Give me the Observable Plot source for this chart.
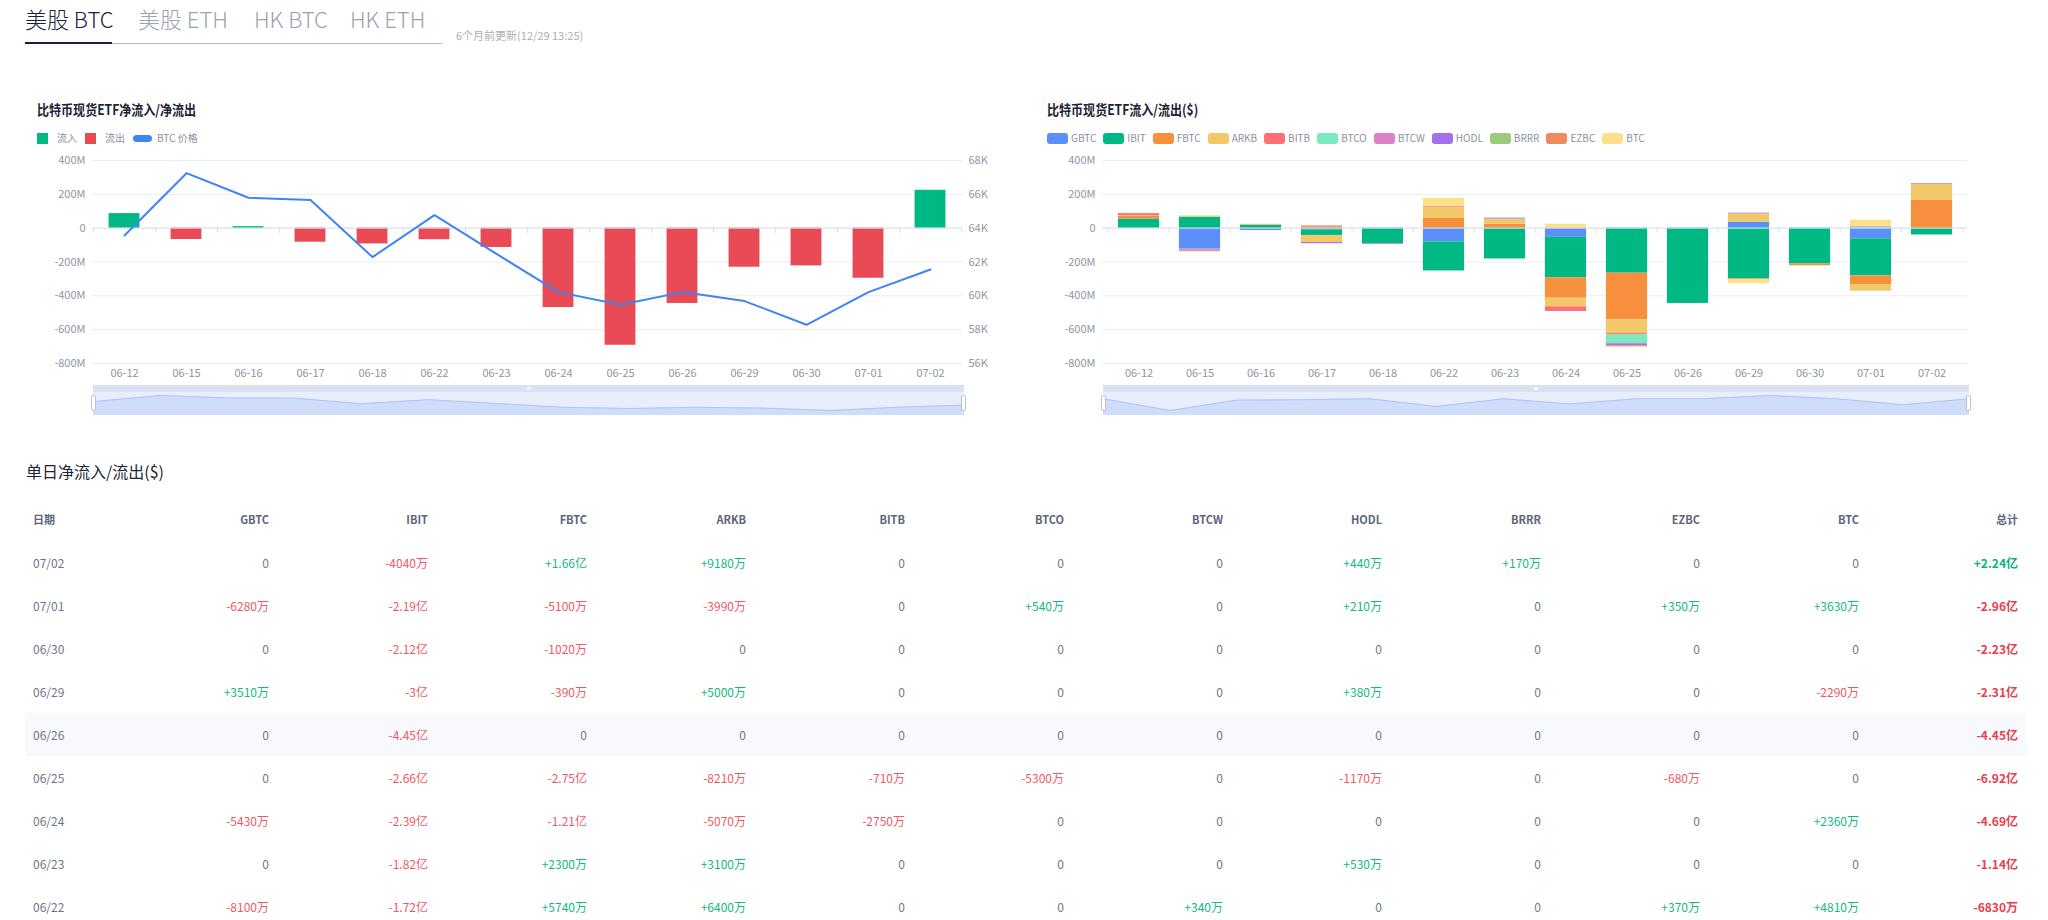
<!DOCTYPE html>
<html><head><meta charset="utf-8">
<script src="https://cdn.jsdelivr.net/npm/d3@7"></script>
<script src="https://cdn.jsdelivr.net/npm/@observablehq/plot@0.6"></script>
<style>
html,body{margin:0;padding:0;background:#fff}
body{width:2048px;height:920px;overflow:hidden;position:relative;font-family:"Noto Sans CJK SC","Noto Sans",sans-serif}
.abs{position:absolute;white-space:nowrap}
.tab{font-size:22px;line-height:30px;font-weight:300}
.ctitle{font-size:14px;font-weight:700;color:#1d2433;line-height:18px;transform:scaleX(0.86);transform-origin:left center}
.leg{display:flex;align-items:center;font-size:10px;color:#8a92a4;line-height:12px}
.leg .it{display:flex;align-items:center;margin-right:8px}
.leg .sw{margin-right:5px}
table{border-collapse:collapse;table-layout:fixed}
th,td{padding:0 8px;text-align:right;white-space:nowrap}
th{height:44px;font-size:11px;font-weight:600;color:#5d6679}
td{height:43px;font-size:12px}
th:first-child,td:first-child{text-align:left}
</style></head><body>
<script>
// ---------- data ----------
const tabs = ["美股 BTC", "美股 ETH", "HK BTC", "HK ETH"];
const updateText = "6个月前更新(12/29 13:25)";
const leftTitle = "比特币现货ETF净流入/净流出";
const rightTitle = "比特币现货ETF流入/流出($)";
const tableTitle = "单日净流入/流出($)";
const dates = ["06-12","06-15","06-16","06-17","06-18","06-22","06-23","06-24","06-25","06-26","06-29","06-30","07-01","07-02"];
const etfs = ["GBTC","IBIT","FBTC","ARKB","BITB","BTCO","BTCW","HODL","BRRR","EZBC","BTC"];
const etfColors = ["#5B8FF9","#00B884","#F6903D","#F2C86B","#FF7070","#7BE8BD","#DD81C6","#A66FEB","#9CCA7B","#EE8A5B","#FFE08A"];
// values in millions USD
const GBTC = [0, -124, -14, -10, 0, -81, 0, -54.3, 0, 0, 35.1, 0, -62.8, 0];
const IBIT = [54, 65, 17, -33, -92, -172, -182, -239, -266, -445, -300, -212, -219, -40.4];
const FBTC = [15, 0, 3, 9, 0, 57.4, 23, -121, -275, 0, -3.9, -10.2, -51, 166];
const ARKB = [4, 7, 3, -42, 0, 64, 31, -50.7, -82.1, 0, 50, 0, -39.9, 91.8];
const BITB = [13, 0, 0, 4, 0, 0, 0, -27.5, -7.1, 0, 0, 0, 0, 0];
const BTCO = [0, 0, 0, 0, 0, 0, 0, 0, -53, 0, 0, 0, 5.4, 0];
const BTCW = [0, -5, 0, 0, 0, 3.4, 0, 0, 0, 0, 0, 0, 0, 0];
const HODL = [0, -4, 0, -7, -4, 0, 5.3, 0, -11.7, 0, 3.8, 0, 2.1, 4.4];
const BRRR = [0, 0, 0, 0, 0, 0, 0, 0, 0, 0, 0, 0, 0, 1.7];
const EZBC = [0, -6, 0, 0, 0, 3.7, 0, 0, -6.8, 0, 0, 0, 3.5, 0];
const BTC  = [0, 0, 0, 0, 0, 48.1, 0, 23.6, 0, 0, -22.9, 0, 36.3, 0];
const totals = [86, -67, 9, -83, -93, -68.3, -114, -469, -692, -445, -231, -223, -296, 224];
const btcPrice = [63.57, 67.25, 65.80, 65.67, 62.29, 64.77, 62.48, 60.22, 59.47, 60.22, 59.69, 58.29, 60.22, 61.56]; // K USD
const flowTicks = [-800, -600, -400, -200, 0, 200, 400];
const priceTickLabels = ["56K","58K","60K","62K","64K","66K","68K"];
const tableRowCount = 9;
const leftLegend = [["sq","#00B884","流入"],["sq","#E84B56","流出"],["pill","#3E85F4","BTC 价格"]];

// ---------- helpers ----------
const FONT = '"Noto Sans CJK SC","Noto Sans",sans-serif';
const GREEN = "#00B884", RED = "#E84B56", BLUE = "#3E85F4";
const GRID = "#E9ECF2", AXIS = "#DCE0E8", LABEL = "#8E96A7";
const series = [GBTC, IBIT, FBTC, ARKB, BITB, BTCO, BTCW, HODL, BRRR, EZBC, BTC];
function div(x, y, cls, html) {
  const d = document.createElement("div");
  d.className = "abs " + (cls || "");
  d.style.left = x + "px"; d.style.top = y + "px";
  if (html !== undefined) d.innerHTML = html;
  document.body.appendChild(d);
  return d;
}
function box(x, y, w, h, bg, extra) {
  const d = div(x, y, "");
  d.style.width = w + "px"; d.style.height = h + "px"; d.style.background = bg;
  if (extra) d.style.cssText += extra;
  return d;
}

// ---------- tabs ----------
const tabX = [25, 138, 254, 350];
tabs.forEach((t, i) => {
  const d = div(tabX[i], 3, "tab", t);
  d.style.color = i === 0 ? "#18203a" : "#9aa2b3";
});
box(25, 43, 417, 1, "#b4bbc8");
box(25, 42, 87, 2, "#16203a");
const up = div(456, 28, "", updateText);
up.style.cssText += "font-size:11px;color:#a9afbc;line-height:14px";

// ---------- titles & legends ----------
div(37, 100, "ctitle", leftTitle);
div(1047, 100, "ctitle", rightTitle);

const ll = div(37, 132, "leg");
leftLegend.forEach(([type, color, label]) => {
  const it = document.createElement("div"); it.className = "it";
  const sw = document.createElement("span"); sw.className = "sw";
  if (type === "sq") sw.style.cssText = `width:11px;height:11px;background:${color};display:inline-block;margin-right:9px`;
  else sw.style.cssText = `width:19px;height:7px;border-radius:4px;background:${color};display:inline-block;margin-right:5px`;
  it.appendChild(sw); it.appendChild(document.createTextNode(label));
  ll.appendChild(it);
});
const rl = div(1047, 132, "leg");
etfs.forEach((e, k) => {
  const it = document.createElement("div"); it.className = "it"; it.style.marginRight = "7px";
  const sw = document.createElement("span"); sw.className = "sw";
  sw.style.cssText = `width:21px;height:11px;border-radius:3px;background:${etfColors[k]};display:inline-block;margin-right:3px`;
  it.appendChild(sw); it.appendChild(document.createTextNode(e));
  rl.appendChild(it);
});

// ---------- left chart ----------
const flowRows = dates.map((date, i) => ({date, i, total: totals[i], price: btcPrice[i]}));
const priceLabel = new Map(flowTicks.map((t, i) => [t, priceTickLabels[i]]));
const fmtFlow = d => d === 0 ? "0" : d + "M";
const W1 = 870, band1 = W1 / dates.length, bar1 = 31;
const zeroTick = -30;
const leftChart = Plot.plot({
  width: 92 + W1 + 48, height: 10 + 203 + 20,
  marginLeft: 92, marginRight: 48, marginTop: 10, marginBottom: 20,
  x: {type: "band", domain: dates, padding: 0, label: null},
  y: {domain: [-800, 400], label: null},
  style: {fontFamily: FONT, fontSize: "11px", background: "transparent", color: LABEL, overflow: "visible"},
  marks: [
    Plot.ruleY(flowTicks, {stroke: GRID}),
    Plot.barY(flowRows.filter(d => d.total >= 0), {x: "date", y: "total", fill: GREEN, insetLeft: (band1 - bar1) / 2, insetRight: (band1 - bar1) / 2}),
    Plot.barY(flowRows.filter(d => d.total < 0), {x: "date", y: "total", fill: RED, insetLeft: (band1 - bar1) / 2, insetRight: (band1 - bar1) / 2}),
    Plot.ruleY([0], {stroke: AXIS}),
    Plot.ruleX(dates, {x: d => d, y1: 0, y2: zeroTick, dx: -band1 / 2, stroke: AXIS}),
    Plot.ruleX(dates.slice(-1), {x: d => d, y1: 0, y2: zeroTick, dx: band1 / 2, stroke: AXIS}),
    Plot.line(flowRows, {x: "date", y: d => (d.price - 64) * 100, stroke: BLUE, strokeWidth: 2}),
    Plot.axisX({tickSize: 0, tickPadding: 6, label: null}),
    Plot.axisY({anchor: "left", ticks: flowTicks, tickSize: 0, tickPadding: 7, tickFormat: fmtFlow, label: null}),
    Plot.axisY({anchor: "right", ticks: flowTicks, tickSize: 0, tickPadding: 6, tickFormat: d => priceLabel.get(d), label: null})
  ]
});
div(0, 150, "").appendChild(leftChart);

// ---------- right chart ----------
const stackRows = etfs.flatMap((etf, k) => dates.map((date, i) => ({date, etf, value: series[k][i]}))).filter(d => d.value !== 0);
const W2 = 865, band2 = W2 / dates.length, bar2 = 42;
const rightChart = Plot.plot({
  width: 92 + W2 + 20, height: 10 + 203 + 20,
  marginLeft: 92, marginRight: 20, marginTop: 10, marginBottom: 20,
  x: {type: "band", domain: dates, padding: 0, label: null},
  y: {domain: [-800, 400], label: null},
  color: {domain: etfs, range: etfColors},
  style: {fontFamily: FONT, fontSize: "11px", background: "transparent", color: LABEL, overflow: "visible"},
  marks: [
    Plot.ruleY(flowTicks, {stroke: GRID}),
    Plot.barY(stackRows, {x: "date", y: "value", fill: "etf", insetLeft: (band2 - bar2) / 2, insetRight: (band2 - bar2) / 2}),
    Plot.ruleY([0], {stroke: AXIS}),
    Plot.ruleX(dates, {x: d => d, y1: 0, y2: zeroTick, dx: -band2 / 2, stroke: AXIS}),
    Plot.ruleX(dates.slice(-1), {x: d => d, y1: 0, y2: zeroTick, dx: band2 / 2, stroke: AXIS}),
    Plot.axisX({tickSize: 0, tickPadding: 6, label: null}),
    Plot.axisY({anchor: "left", ticks: flowTicks, tickSize: 0, tickPadding: 7, tickFormat: fmtFlow, label: null})
  ]
});
div(1010, 150, "").appendChild(rightChart);

// ---------- data-zoom sliders ----------
function slider(values, x, width) {
  const top = 385;
  box(x, top, width, 30, "#E8EEFC");
  box(x, top, width, 7, "#D9E1F3");
  const [lo0, hi0] = d3.extent(values);
  const u = (hi0 - lo0) / 15;
  const lo = lo0 - 5 * u, hi = hi0 + 3 * u;
  const p = Plot.plot({
    width, height: 23, margin: 0,
    x: {domain: [0, values.length - 1], axis: null},
    y: {domain: [lo, hi], axis: null},
    style: {background: "transparent"},
    marks: [
      Plot.areaY(values, {x: (d, i) => i, y1: lo, y2: d => d, fill: "#D0DDFA"}),
      Plot.line(values, {x: (d, i) => i, y: d => d, stroke: "#AFC5F5", strokeWidth: 1})
    ]
  });
  div(x, top + 7, "").appendChild(p);
  [x - 2, x + width - 3].forEach(hx => box(hx, top + 10, 5, 16, "#fff", "border:1px solid #b9c2d3;border-radius:2px;box-sizing:border-box"));
  box(x + width / 2 - 2, top + 2, 4, 3, "#f4f6fb");
}
slider(btcPrice, 93, 871);
slider(GBTC, 1103, 866);

// ---------- table ----------
const tt = div(26, 461, "", tableTitle);
tt.style.cssText += "font-size:16px;color:#1e2533;line-height:20px";
function fmt(v) {
  if (v === 0) return "0";
  const s = v > 0 ? "+" : "-", a = Math.abs(v);
  if (a >= 100) return s + String(+(a / 100).toFixed(2)) + "亿";
  return s + Math.round(a * 100) + "万";
}
const colorOf = v => v > 0 ? "#14B883" : v < 0 ? "#EE5A65" : "#6E778A";
const tbl = document.createElement("table");
tbl.style.width = (93 + 12 * 159) + "px";
const cg = document.createElement("colgroup");
[93, ...Array(12).fill(159)].forEach(w => { const c = document.createElement("col"); c.style.width = w + "px"; cg.appendChild(c); });
tbl.appendChild(cg);
const thr = document.createElement("tr");
["日期", ...etfs, "总计"].forEach(h => { const th = document.createElement("th"); th.textContent = h; thr.appendChild(th); });
tbl.appendChild(thr);
const rowIdx = d3.range(dates.length - 1, dates.length - 1 - tableRowCount, -1);
rowIdx.forEach(i => {
  const tr = document.createElement("tr");
  if (dates[i] === "06-26") tr.style.background = "#F7F9FC";
  const td0 = document.createElement("td"); td0.textContent = dates[i].replace("-", "/"); td0.style.color = "#6E778A";
  tr.appendChild(td0);
  series.forEach(s => {
    const td = document.createElement("td"); td.textContent = fmt(s[i]); td.style.color = colorOf(s[i]);
    tr.appendChild(td);
  });
  const tdT = document.createElement("td"); tdT.textContent = fmt(totals[i]);
  tdT.style.color = totals[i] > 0 ? "#0DB37C" : "#E8404D"; tdT.style.fontWeight = "700";
  tr.appendChild(tdT);
  tbl.appendChild(tr);
});
div(25, 497, "").appendChild(tbl);
</script>
</body></html>
